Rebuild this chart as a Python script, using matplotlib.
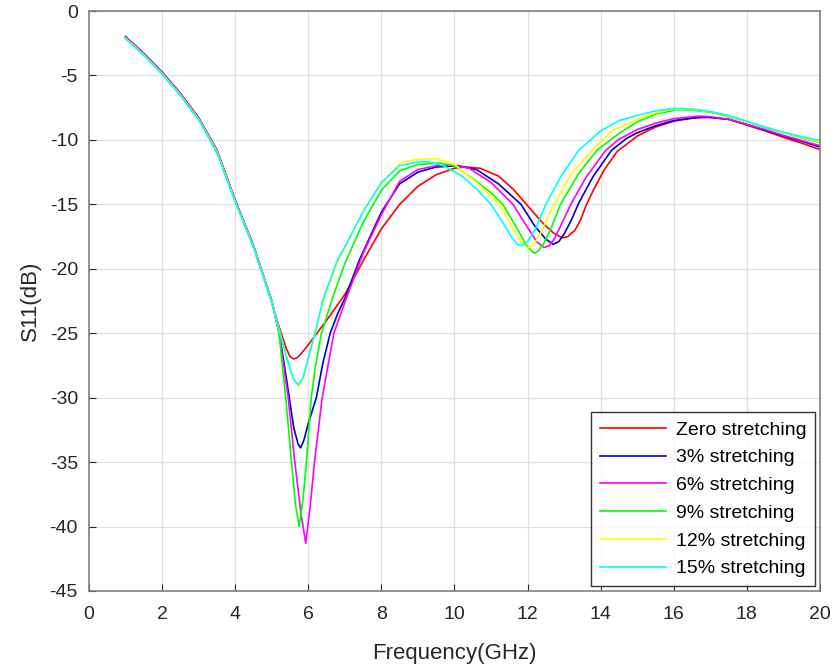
import matplotlib
matplotlib.use("Agg")
import matplotlib.pyplot as plt

plt.rcParams['font.family'] = ['Liberation Sans', 'DejaVu Sans']
plt.rcParams['axes.unicode_minus'] = False

# frequency (GHz) and S11 (dB), one pair per curve
f_zero = [1.0, 1.5, 2.0, 2.5, 3.0, 3.5, 4.0, 4.5, 5.0, 5.2, 5.4, 5.5, 5.6, 5.7, 5.8, 6.0,
          6.5, 7.0, 7.5, 8.0, 8.5, 9.0, 9.5, 10.0, 10.3, 10.7, 11.2, 11.6, 12.0, 12.4, 12.7,
          12.95, 13.1, 13.3, 13.45, 13.6, 13.8, 14.1, 14.45, 15.0, 15.5, 16.0, 16.5, 17.0,
          17.5, 18.0, 18.5, 19.0, 19.5, 20.0]
s_zero = [-2.0, -3.3, -4.75, -6.4, -8.3, -10.8, -14.7, -18.3, -22.6, -24.5, -26.2, -26.8,
          -27.0, -26.9, -26.6, -25.9, -24.0, -22.0, -19.4, -16.9, -15.0, -13.6, -12.7, -12.2,
          -12.1, -12.2, -12.8, -13.8, -15.1, -16.4, -17.2, -17.6, -17.5, -17.0, -16.2, -15.1,
          -13.9, -12.3, -10.9, -9.7, -9.0, -8.55, -8.3, -8.25, -8.4, -8.85, -9.3, -9.8,
          -10.25, -10.75]

f_3 = [1.0, 1.5, 2.0, 2.5, 3.0, 3.5, 4.0, 4.5, 5.0, 5.2, 5.4, 5.6, 5.72, 5.79, 5.88, 6.0,
       6.22, 6.4, 6.6, 6.8, 7.0, 7.4, 8.0, 8.5, 9.0, 9.5, 10.1, 10.6, 11.2, 11.82, 12.2, 12.5,
       12.7, 12.85, 13.0, 13.2, 13.4, 13.8, 14.3, 14.7, 15.0, 15.5, 16.0, 16.8, 17.5, 18.0,
       18.5, 19.0, 19.5, 20.0]
s_3 = [-2.0, -3.3, -4.75, -6.4, -8.3, -10.8, -14.7, -18.2, -22.5, -24.9, -28.5, -32.3, -33.6,
       -33.9, -33.3, -32.0, -30.0, -27.3, -25.0, -23.5, -22.3, -19.3, -15.6, -13.4, -12.5,
       -12.1, -12.0, -12.3, -13.4, -15.0, -16.7, -17.7, -18.1, -17.9, -17.3, -16.2, -14.9,
       -12.8, -10.8, -9.9, -9.45, -8.9, -8.5, -8.2, -8.4, -8.8, -9.25, -9.7, -10.1, -10.55]

f_6 = [1.0, 1.5, 2.0, 2.5, 3.0, 3.5, 4.0, 4.5, 5.0, 5.2, 5.45, 5.63, 5.8, 5.93, 6.05, 6.17,
       6.38, 6.7, 7.05, 7.5, 8.0, 8.5, 9.0, 9.5, 9.95, 10.4, 11.0, 11.6, 12.0, 12.25, 12.45,
       12.6, 12.75, 12.95, 13.2, 13.6, 14.14, 14.5, 15.0, 15.5, 16.0, 16.7, 17.0, 17.5, 18.0,
       18.5, 19.0, 19.5, 20.0]
s_6 = [-2.0, -3.3, -4.75, -6.4, -8.3, -10.8, -14.7, -18.2, -22.5, -25.0, -30.0, -35.0, -39.0,
       -41.3, -38.5, -35.0, -30.0, -25.0, -22.2, -18.8, -15.8, -13.2, -12.3, -12.0, -11.95,
       -12.2, -13.3, -15.0, -16.8, -17.9, -18.35, -18.2, -17.6, -16.4, -14.9, -12.9, -10.8,
       -9.95, -9.2, -8.7, -8.35, -8.15, -8.2, -8.4, -8.8, -9.2, -9.65, -10.05, -10.45]

f_9 = [1.0, 1.5, 2.0, 2.5, 3.0, 3.5, 4.0, 4.5, 5.0, 5.2, 5.4, 5.54, 5.65, 5.75, 5.85, 5.95,
       6.08, 6.2, 6.36, 6.67, 7.0, 7.5, 8.0, 8.5, 9.0, 9.6, 10.0, 10.5, 11.0, 11.32, 11.7,
       11.95, 12.1, 12.19, 12.3, 12.45, 12.65, 12.9, 13.4, 13.9, 14.5, 15.0, 15.5, 16.1, 16.5,
       17.0, 17.5, 18.0, 18.5, 19.0, 19.5, 20.0]
s_9 = [-2.1, -3.4, -4.85, -6.5, -8.4, -10.9, -14.8, -18.3, -22.5, -25.0, -30.5, -35.0, -38.3,
       -40.0, -38.0, -35.0, -30.0, -27.5, -25.0, -22.2, -19.6, -16.4, -13.9, -12.4, -11.9,
       -11.8, -12.0, -13.0, -14.1, -15.0, -16.8, -18.1, -18.6, -18.8, -18.6, -18.0, -16.8,
       -15.0, -12.6, -10.8, -9.5, -8.6, -8.0, -7.65, -7.7, -7.85, -8.2, -8.6, -9.05, -9.45,
       -9.85, -10.2]

f_12 = [1.0, 1.5, 2.0, 2.5, 3.0, 3.5, 4.0, 4.5, 5.0, 5.2, 5.4, 5.6, 5.74, 5.88, 6.0, 6.2,
        6.42, 6.82, 7.0, 7.5, 8.0, 8.5, 9.0, 9.5, 10.0, 10.6, 11.23, 11.6, 11.85, 12.0, 12.15,
        12.35, 12.55, 12.73, 13.2, 13.77, 14.3, 15.0, 15.5, 16.0, 16.5, 17.0, 17.5, 18.0,
        18.5, 19.0, 19.5, 20.0]
s_12 = [-2.1, -3.4, -4.85, -6.5, -8.4, -10.9, -14.8, -18.3, -22.6, -24.7, -26.8, -28.6, -29.1,
        -28.4, -27.0, -24.9, -22.4, -19.3, -18.4, -15.5, -13.4, -11.8, -11.5, -11.45, -11.9,
        -13.3, -15.0, -16.9, -18.0, -18.4, -18.2, -17.3, -16.0, -15.0, -12.6, -10.8, -9.3,
        -8.4, -7.9, -7.6, -7.65, -7.8, -8.15, -8.6, -9.0, -9.45, -9.8, -10.15]

f_15 = [1.0, 1.5, 2.0, 2.5, 3.0, 3.5, 4.0, 4.5, 5.0, 5.2, 5.4, 5.6, 5.72, 5.85, 6.0, 6.2,
        6.4, 6.8, 7.0, 7.5, 8.0, 8.5, 9.0, 9.3, 9.7, 10.2, 10.6, 11.0, 11.3, 11.55, 11.72,
        11.85, 12.0, 12.2, 12.5, 12.9, 13.4, 14.0, 14.5, 15.0, 15.5, 16.0, 16.5, 17.0, 17.5,
        18.0, 18.5, 19.0, 19.5, 20.0]
s_15 = [-2.15, -3.45, -4.9, -6.55, -8.45, -11.0, -14.8, -18.3, -22.6, -24.7, -26.8, -28.6,
        -29.0, -28.5, -26.9, -24.8, -22.4, -19.3, -18.3, -15.6, -13.3, -12.0, -11.7, -11.7,
        -12.0, -12.8, -13.8, -15.0, -16.3, -17.5, -18.1, -18.2, -17.9, -17.0, -15.0, -12.9,
        -10.8, -9.3, -8.5, -8.1, -7.75, -7.55, -7.6, -7.8, -8.1, -8.55, -9.0, -9.4, -9.75,
        -10.05]

labels = ["Zero stretching", "3% stretching", "6% stretching",
          "9% stretching", "12% stretching", "15% stretching"]
colors = ["#ff0000", "#0000cc", "#ff00ff", "#00ff00", "#ffff00", "#00ffff"]
curves = [(f_zero, s_zero), (f_3, s_3), (f_6, s_6), (f_9, s_9), (f_12, s_12), (f_15, s_15)]

fig = plt.figure(figsize=(8.35, 6.7), dpi=100)
ax = fig.add_axes([0.1066, 0.118, 0.8754, 0.8655])

for (f, s), lab, c in zip(curves, labels, colors):
    ax.plot(f, s, color=c, lw=1.2, label=lab)

ax.set_xlim(0, 20)
ax.set_ylim(-45, 0)
ax.set_xticks(range(0, 21, 2))
ax.set_yticks(range(-45, 1, 5))
ax.grid(True, color="#e0e0e0", lw=0.9)
ax.set_axisbelow(True)
ax.tick_params(direction="in", length=5, labelsize=14, colors="#262626", pad=8)
ax.tick_params(axis="x", pad=11)
for sp in ax.spines.values():
    sp.set_color("#808080")
    sp.set_linewidth(1.2)

ax.set_xlabel("Frequency(GHz)", fontsize=16, color="#262626", labelpad=14)
ax.set_ylabel("S11(dB)", fontsize=16, color="#262626", labelpad=6)

leg = ax.legend(loc="lower right", fontsize=14, frameon=True, fancybox=False,
                edgecolor="black", handlelength=3.4, handletextpad=0.5,
                labelspacing=0.52, borderaxespad=0.25, borderpad=0.45)
leg.get_frame().set_linewidth(1.0)

fig.savefig("out.png", dpi=100)
